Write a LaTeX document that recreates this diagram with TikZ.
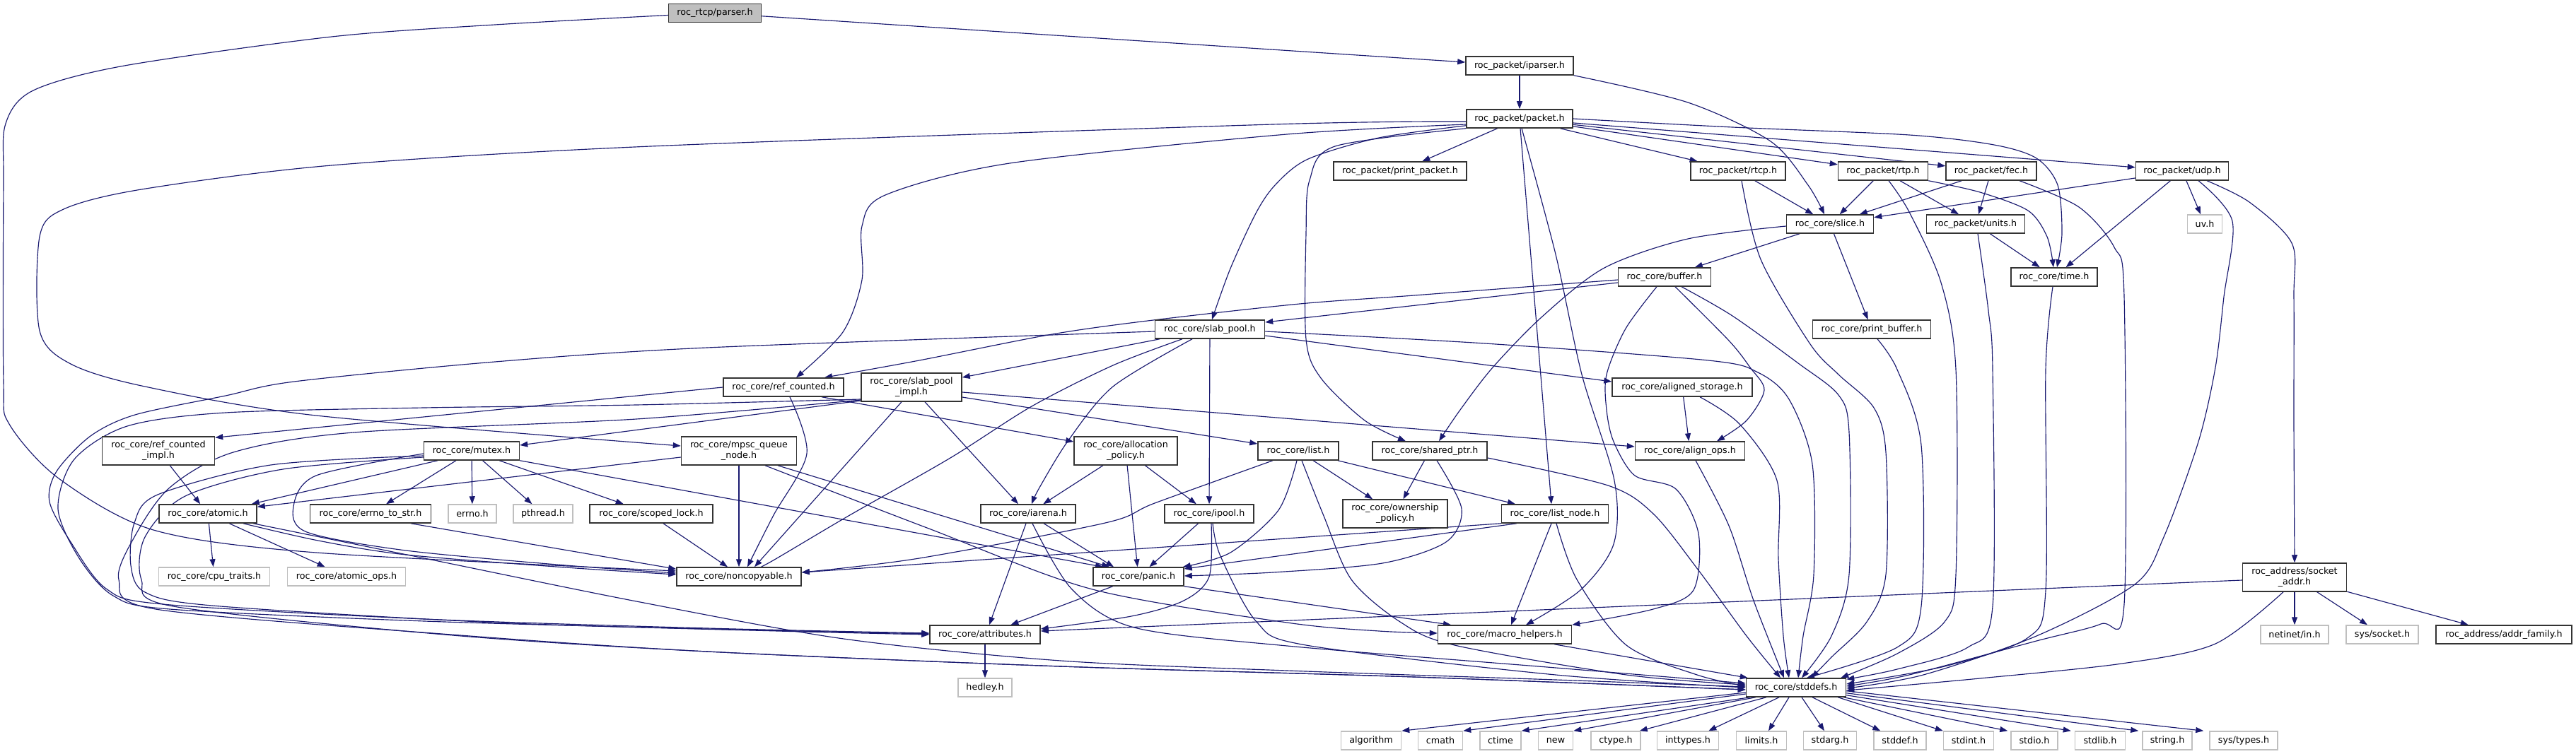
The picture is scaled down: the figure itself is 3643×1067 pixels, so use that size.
\documentclass[tikz,border=0pt]{standalone}
\usepackage{fontspec}
\newfontfamily\djsans{DejaVu Sans}
\usetikzlibrary{arrows.meta}
\definecolor{edgec}{HTML}{191970}
\definecolor{hdr}{HTML}{BFBFBF}
\pgfdeclarelayer{bg}
\pgfsetlayers{bg,main}
\tikzset{
  box/.style={draw=black!80, line width=1.5pt, fill=white, inner sep=0pt, minimum height=26pt,
    font=\djsans\fontsize{12.7}{15}\selectfont, align=center, text=black},
  two/.style={minimum height=40pt},
  ext/.style={box, draw=hdr},
  e/.style={draw=edgec, line width=1.15pt, -{Triangle[length=11pt,width=8pt]}},
  sm/.style={smooth, tension=0.5},
}
\begin{document}
\begin{tikzpicture}[x=1pt,y=-1pt]
\begin{pgfonlayer}{bg}
\fill[white] (0,0) rectangle (3643,1067);
\end{pgfonlayer}
\useasboundingbox (0,0) rectangle (3643,1067);
% nodes
\node[box,fill=hdr,minimum width=131pt] (parser) at (1011,18.5) {roc\_rtcp/parser.h};
\node[box,minimum width=152pt] (iparser) at (2149,93) {roc\_packet/iparser.h};
\node[box,minimum width=150pt] (packet) at (2149,168) {roc\_packet/packet.h};
\node[box,minimum width=188pt] (printpacket) at (1980,242) {roc\_packet/print\_packet.h};
\node[box,minimum width=134pt] (rtcp) at (2458,242) {roc\_packet/rtcp.h};
\node[box,minimum width=127pt] (rtp) at (2663,242) {roc\_packet/rtp.h};
\node[box,minimum width=128pt] (fec) at (2816,242) {roc\_packet/fec.h};
\node[box,minimum width=131pt] (udp) at (3086,242) {roc\_packet/udp.h};
\node[box,minimum width=123pt] (slice) at (2588,317) {roc\_core/slice.h};
\node[box,minimum width=139pt] (units) at (2794,317) {roc\_packet/units.h};
\node[ext,minimum width=49pt] (uv) at (3118,317) {uv.h};
\node[box,minimum width=131pt] (buffer) at (2354,392) {roc\_core/buffer.h};
\node[box,minimum width=122pt] (time) at (2905,392) {roc\_core/time.h};
\node[box,minimum width=155pt] (slabpool) at (1711,466) {roc\_core/slab\_pool.h};
\node[box,minimum width=167pt] (printbuffer) at (2647,466) {roc\_core/print\_buffer.h};
\node[box,minimum width=170pt] (refcounted) at (1108,548) {roc\_core/ref\_counted.h};
\node[box,two,minimum width=142pt] (spimpl) at (1289,548) {roc\_core/slab\_pool\\\_impl.h};
\node[box,minimum width=198pt] (alignedst) at (2379,548) {roc\_core/aligned\_storage.h};
\node[box,two,minimum width=159pt] (rcimpl) at (224,638) {roc\_core/ref\_counted\\\_impl.h};
\node[box,minimum width=135pt] (mutex) at (667,638) {roc\_core/mutex.h};
\node[box,two,minimum width=163pt] (mpsc) at (1045,638) {roc\_core/mpsc\_queue\\\_node.h};
\node[box,two,minimum width=146pt] (allocpol) at (1592,638) {roc\_core/allocation\\\_policy.h};
\node[box,minimum width=114pt] (list) at (1836,638) {roc\_core/list.h};
\node[box,minimum width=162pt] (sharedptr) at (2022,638) {roc\_core/shared\_ptr.h};
\node[box,minimum width=155pt] (alignops) at (2390,638) {roc\_core/align\_ops.h};
\node[box,minimum width=138pt] (atomic) at (294,727) {roc\_core/atomic.h};
\node[box,minimum width=171pt] (errnostr) at (524,727) {roc\_core/errno\_to\_str.h};
\node[ext,minimum width=68pt] (errno) at (668,727) {errno.h};
\node[ext,minimum width=84pt] (pthread) at (768,727) {pthread.h};
\node[box,minimum width=174pt] (scopedlock) at (921,727) {roc\_core/scoped\_lock.h};
\node[box,minimum width=134pt] (iarena) at (1454,727) {roc\_core/iarena.h};
\node[box,minimum width=126pt] (ipool) at (1710,727) {roc\_core/ipool.h};
\node[box,two,minimum width=148pt] (ownpol) at (1973,727) {roc\_core/ownership\\\_policy.h};
\node[box,minimum width=151pt] (listnode) at (2199,727) {roc\_core/list\_node.h};
\node[ext,minimum width=157pt] (cputraits) at (303,816) {roc\_core/cpu\_traits.h};
\node[ext,minimum width=167pt] (atomicops) at (490,816) {roc\_core/atomic\_ops.h};
\node[box,minimum width=176pt] (noncopy) at (1045,816) {roc\_core/noncopyable.h};
\node[box,minimum width=128pt] (panic) at (1610,816) {roc\_core/panic.h};
\node[box,two,minimum width=147pt] (sockaddr) at (3245,817) {roc\_address/socket\\\_addr.h};
\node[box,minimum width=156pt] (attributes) at (1393,898) {roc\_core/attributes.h};
\node[box,minimum width=189pt] (macro) at (2128,898) {roc\_core/macro\_helpers.h};
\node[ext,minimum width=96pt] (netinet) at (3245,898) {netinet/in.h};
\node[ext,minimum width=102pt] (syssocket) at (3369,898) {sys/socket.h};
\node[box,minimum width=192pt] (addrfam) at (3541,898) {roc\_address/addr\_family.h};
\node[ext,minimum width=76pt] (hedley) at (1393,973) {hedley.h};
\node[box,minimum width=141pt] (stddefs) at (2540,973) {roc\_core/stddefs.h};
\node[ext,minimum width=85pt] (lfa) at (1939,1048) {algorithm};
\node[ext,minimum width=63pt] (lfb) at (2037,1048) {cmath};
\node[ext,minimum width=58pt] (lfc) at (2122,1048) {ctime};
\node[ext,minimum width=49pt] (lfd) at (2200,1048) {new};
\node[ext,minimum width=70pt] (lfe) at (2285,1048) {ctype.h};
\node[ext,minimum width=87pt] (lff) at (2387,1048) {inttypes.h};
\node[ext,minimum width=71pt] (lfg) at (2491,1048) {limits.h};
\node[ext,minimum width=75pt] (lfh) at (2588,1048) {stdarg.h};
\node[ext,minimum width=74pt] (lfi) at (2687,1048) {stddef.h};
\node[ext,minimum width=71pt] (lfj) at (2784,1048) {stdint.h};
\node[ext,minimum width=66pt] (lfk) at (2877,1048) {stdio.h};
\node[ext,minimum width=71pt] (lfl) at (2970,1048) {stdlib.h};
\node[ext,minimum width=70pt] (lfm) at (3065,1048) {string.h};
\node[ext,minimum width=96pt] (lfn) at (3173,1048) {sys/types.h};

\begin{pgfonlayer}{bg}
% parser
\draw[e] (parser) -- (iparser);
\draw[e] plot[sm] coordinates {([yshift=-3pt]parser.west) (700,35) (469,52) (176,93) (47,128) (8,175) (5,260) (5,540) (13,600) (83,677) (217,750) (447,782) ([yshift=8pt]noncopy.west)};
% iparser
\draw[e] (iparser) -- (packet);
\draw[e] plot[sm] coordinates {(iparser.south east) (2387,145) (2504,200) (2557,262) ([xshift=-8pt]slice.north)};
% packet
\draw[e] (packet) -- (printpacket);
\draw[e] (packet) -- (rtcp);
\draw[e] (packet) -- (rtp);
\draw[e] (packet) -- (fec);
\draw[e] (packet) -- (udp);
\draw[e] plot[sm] coordinates {(packet.east) (2450,180) (2700,191) (2820,205) (2880,224) (2910,262) (2916,330) ([xshift=4pt]time.north)};
\draw[e] plot[sm] coordinates {([yshift=4pt]packet.south west) (1950,195) (1850,225) (1805,260) (1777,300) (1740,380) ([xshift=3pt]slabpool.north)};
\draw[e] plot[sm] coordinates {(packet.south west) (1888,207) (1852,255) (1847,330) (1847,480) (1868,535) (1930,595) ([xshift=-34pt]sharedptr.north)};
\draw[e] ([xshift=1pt]packet.south) -- ([xshift=-5pt]listnode.north);
\draw[e] plot[sm] coordinates {([xshift=3pt]packet.south) (2200,360) (2237,530) (2283,680) (2282,770) (2235,835) ([xshift=30pt]macro.north)};
\draw[e] plot[sm] coordinates {([yshift=-8pt]packet.west) (1820,190) (1428,231) (1252,276) (1219,320) (1219,396) (1192,470) ([xshift=18pt]refcounted.north)};
\draw[e] plot[sm] coordinates {([yshift=-4pt]packet.west) (1800,176) (920,207) (469,234) (200,268) (90,296) (56,335) (56,468) (100,515) (205,547) (447,588) ([yshift=7pt]mpsc.west)};
% rtcp
\draw[e] (rtcp) -- (slice);
\draw[e] plot[sm] coordinates {([xshift=5pt]rtcp.south) (2490,367) (2560,487) (2600,530) (2650,577) (2667,640) (2667,813) (2640,880) (2590,930) ([xshift=22pt]stddefs.north)};
% rtp
\draw[e] (rtp) -- (slice);
\draw[e] (rtp) -- (units);
\draw[e] plot[sm] coordinates {(rtp.south east) (2800,272) (2868,298) (2895,335) ([xshift=-1pt]time.north)};
\draw[e] plot[sm] coordinates {([xshift=8pt]rtp.south) (2700,300) (2745,400) (2766,523) (2766,813) (2750,880) (2683,925) ([xshift=-8pt]stddefs.north east)};
% fec
\draw[e] (fec) -- (slice);
\draw[e] (fec) -- (units);
\draw[e] plot[sm] coordinates {([xshift=40pt]fec.south) (2940,293) (2990,350) (3004,420) (3004,855) (2971,883) (2880,907) (2700,955) ([yshift=2pt]stddefs.east)};
% udp
\draw[e] (udp) -- (slice);
\draw[e] (udp) -- (time);
\draw[e] (udp) -- (uv);
\draw[e] plot[sm] coordinates {([xshift=23pt]udp.south) (3157,313) (3145,420) (3133,520) (3109,625) (3060,760) (3019,827) (2880,900) (2720,955) ([yshift=-1pt]stddefs.east)};
\draw[e] plot[sm] coordinates {([xshift=35pt]udp.south) (3181,286) (3241,344) (3244,420) (3244,600) (sockaddr.north)};
% units, time
\draw[e] (units) -- (time);
\draw[e] plot[sm] coordinates {([xshift=3pt]units.south) (2812,440) (2818,523) (2818,858) (2783,916) (2683,947) ([yshift=-2pt]stddefs.north east)};
\draw[e] plot[sm] coordinates {([xshift=-2pt]time.south) (2893,523) (2893,836) (2867,903) (2750,943) ([yshift=5pt]stddefs.east)};
% slice
\draw[e] (slice) -- (buffer);
\draw[e] plot[sm] coordinates {([yshift=-3pt]slice.west) (2387,338) (2269,379) (2181,448) (2111,520) (2065,580) ([xshift=13pt]sharedptr.north)};
\draw[e] (slice) -- (printbuffer);
% buffer
\draw[e] plot[sm] coordinates {([yshift=-4pt]buffer.west) (2000,418) (1838,430) (1631,453) (1488,473) (1300,510) ([xshift=58pt]refcounted.north)};
\draw[e] ([yshift=-8pt]buffer.west) -- ([yshift=10pt]slabpool.east);
\draw[e] plot[sm] coordinates {([xshift=15pt]buffer.south) (2445,482) (2475,520) (2495,552) (2470,595) ([xshift=38pt]alignops.north)};
\draw[e] plot[sm] coordinates {([xshift=-11pt]buffer.south) (2299,465) (2272,530) (2272,580) (2282,625) (2312,673) (2370,692) (2402,755) (2395,835) (2338,862) (macro.north east)};
\draw[e] plot[sm] coordinates {([xshift=24pt]buffer.south) (2450,447) (2543,514) (2600,559) (2615,612) (2615,813) (2590,900) ([xshift=8pt]stddefs.north)};
% print_buffer
\draw[e] plot[sm] coordinates {([xshift=8pt]printbuffer.south) (2683,523) (2717,630) (2717,858) (2683,916) ([xshift=15pt]stddefs.north)};
% slab_pool
\draw[e] (slabpool) -- (spimpl);
\draw[e] plot[sm] coordinates {([xshift=-39pt]slabpool.south) (1574,517) (1459,575) (1344,648) (1200,730) (1090,795) ([xshift=27pt]noncopy.north)};
\draw[e] plot[sm] coordinates {([xshift=-25pt]slabpool.south) (1574,547) (1511,623) (1470,690) ([xshift=5pt]iarena.north)};
\draw[e] (slabpool) -- (ipool);
\draw[e] ([yshift=-9pt]slabpool.east) -- ([yshift=8pt]alignedst.west);
\draw[e] plot[sm] coordinates {([yshift=-3pt]slabpool.east) (2100,486) (2416,510) (2486,527) (2530,565) (2563,657) (2565,813) (2550,900) ([xshift=3pt]stddefs.north)};
\draw[e] plot[sm] coordinates {([yshift=-3pt]slabpool.west) (1000,492) (700,512) (416,540) (319,560) (191,587) (128,617) (80,667) (70,710) (100,767) (150,833) (230,855) (600,876) (1000,889) ([yshift=2pt]attributes.west)};
% slab_pool_impl
\draw[e] ([xshift=-14pt]spimpl.south) -- ([xshift=22pt]noncopy.north);
\draw[e] ([xshift=19pt]spimpl.south) -- ([xshift=-14pt]iarena.north);
\draw[e] ([yshift=-7pt]spimpl.east) -- ([yshift=6pt]alignops.west);
\draw[e] ([yshift=-14pt]spimpl.east) -- ([yshift=10pt]list.west);
\draw[e] ([yshift=-19pt]spimpl.west) -- ([yshift=8pt]mutex.east);
\draw[e] plot[sm] coordinates {([yshift=-17pt]spimpl.west) (900,573) (600,577) (319,584) (180,603) (105,650) (82,720) (112,790) (160,843) (240,862) (600,879) (1000,890) ([yshift=1pt]attributes.west)};
\draw[e] plot[sm] coordinates {([yshift=-18pt]spimpl.west) (900,593) (500,612) (330,640) (240,690) (190,760) (168,820) (220,862) (638,898) (1000,922) (1500,943) (2000,958) ([yshift=-3pt]stddefs.west)};
% ref_counted
\draw[e] (refcounted.west) -- ([yshift=-2pt]rcimpl.north east);
\draw[e] plot[sm] coordinates {([xshift=9pt]refcounted.south) (1141,642) (1094,729) ([xshift=12pt]noncopy.north)};
\draw[e] ([xshift=54pt]refcounted.south) -- ([yshift=13pt]allocpol.west);
\draw[e] (rcimpl) -- (atomic);
% mpsc
\draw[e] (mpsc) -- (noncopy);
\draw[e] ([xshift=55pt]mpsc.south) -- ([xshift=-41pt]panic.north);
\draw[e] plot[sm] coordinates {([xshift=37pt]mpsc.south) (1311,747) (1545,834) (1820,881) (1950,893) ([yshift=2pt]macro.west)};
\draw[e] ([yshift=-9pt]mpsc.west) -- ([yshift=-4pt]atomic.north east);
% mutex
\draw[e] ([xshift=-48pt]mutex.south) -- ([xshift=-8pt]atomic.north east);
\draw[e] (mutex) -- (errnostr);
\draw[e] (mutex) -- (errno);
\draw[e] (mutex) -- (pthread);
\draw[e] (mutex) -- (scopedlock);
\draw[e] (mutex.south east) -- ([xshift=-50pt]panic.north);
\draw[e] plot[sm] coordinates {([yshift=-4pt]mutex.west) (447,673) (415,717) (434,753) (574,779) (800,800) ([yshift=5pt]noncopy.west)};
\draw[e] plot[sm] coordinates {([yshift=-7pt]mutex.west) (383,658) (223,700) (190,740) (185,800) (205,838) (300,857) (700,881) (1100,893) (attributes.west)};
\draw[e] plot[sm] coordinates {([yshift=-9pt]mutex.west) (400,664) (262,702) (205,760) (200,820) (245,858) (640,899) (1000,922) (1500,943) (2000,958) ([yshift=-3pt]stddefs.west)};
% atomic
\draw[e] (atomic) -- (cputraits);
\draw[e] (atomic) -- (atomicops);
\draw[e] plot[sm] coordinates {([xshift=50pt]atomic.south) (450,765) (574,785) (800,803) ([yshift=3pt]noncopy.west)};
\draw[e] plot[sm] coordinates {([xshift=64pt]atomic.south) (600,790) (900,851) (1193,904) (1500,935) (1820,949) (2200,962) ([yshift=1pt]stddefs.west)};
% errno_to_str, scoped_lock
\draw[e] ([xshift=57pt]errnostr.south) -- ([yshift=-3pt]noncopy.north west);
\draw[e] ([xshift=17pt]scopedlock.south) -- ([xshift=-16pt]noncopy.north);
% allocation_policy
\draw[e] (allocpol) -- (iarena);
\draw[e] (allocpol) -- (panic);
\draw[e] (allocpol) -- (ipool);
% list
\draw[e] (list) -- (ownpol);
\draw[e] (list) -- (listnode);
\draw[e] plot[sm] coordinates {([xshift=-2pt]list.south) (1808,722) (1740,782) ([xshift=-2pt]panic.north east)};
\draw[e] plot[sm] coordinates {([xshift=-36pt]list.south) (1633,712) (1563,740) (1300,790) ([yshift=6pt]noncopy.east)};
\draw[e] plot[sm] coordinates {([xshift=5pt]list.south) (1872,730) (1911,820) (1980,880) (2057,913) (2300,955) ([yshift=4pt]stddefs.west)};
% ipool
\draw[e] (ipool) -- (panic);
\draw[e] plot[sm] coordinates {([xshift=3pt]ipool.south) (1710,816) (1674,850) (1600,872) ([yshift=8pt]attributes.east)};
\draw[e] plot[sm] coordinates {([xshift=5pt]ipool.south) (1726,787) (1777,880) (1847,913) (2200,955) (stddefs.west)};
% iarena
\draw[e] ([xshift=-3pt]iarena.south) -- ([xshift=6pt]attributes.north);
\draw[e] (iarena) -- ([xshift=-35pt]panic.north);
\draw[e] plot[sm] coordinates {([xshift=6pt]iarena.south) (1516,834) (1604,888) (1820,914) (2200,945) ([yshift=6pt]stddefs.west)};
% panic
\draw[e] (panic) -- (attributes);
\draw[e] (panic.south east) -- ([xshift=-76pt]macro.north);
% attributes
\draw[e] (attributes) -- (hedley);
% macro_helpers
\draw[e] ([xshift=70pt]macro.south) -- ([xshift=3pt]stddefs.north west);
% list_node
\draw[e] ([xshift=-5pt]listnode.south) -- ([xshift=9pt]macro.north);
\draw[e] plot[sm] coordinates {([xshift=2pt]listnode.south) (2230,820) (2300,913) (2400,955) ([yshift=2pt]stddefs.west)};
\draw[e] (listnode.south west) -- ([yshift=6pt]noncopy.east);
\draw[e] ([xshift=-54pt]listnode.south) -- ([yshift=11pt]panic.east);
% shared_ptr
\draw[e] (sharedptr) -- (ownpol);
\draw[e] plot[sm] coordinates {([xshift=10pt]sharedptr.south) (2067,720) (2045,767) (1955,797) (1800,810) ([yshift=1pt]panic.east)};
\draw[e] plot[sm] coordinates {([yshift=-10pt]sharedptr.east) (2274,687) (2338,727) (2402,807) (2470,900) ([xshift=-22pt]stddefs.north)};
% aligned_storage, align_ops
\draw[e] (alignedst) -- (alignops);
\draw[e] plot[sm] coordinates {([xshift=25pt]alignedst.south) (2460,600) (2513,680) (2515,791) (2522,900) ([xshift=-10pt]stddefs.north)};
\draw[e] plot[sm] coordinates {([xshift=8pt]alignops.south) (2445,744) (2480,850) ([xshift=-17pt]stddefs.north)};
% socket_addr
\draw[e] (sockaddr) -- (netinet);
\draw[e] (sockaddr) -- (syssocket);
\draw[e] (sockaddr) -- (addrfam);
\draw[e] ([yshift=-4pt]sockaddr.west) -- ([yshift=5pt]attributes.east);
\draw[e] plot[sm] coordinates {([xshift=-16pt]sockaddr.south) (3133,911) (3001,939) (2800,960) ([yshift=-4pt]stddefs.east)};
% stddefs leaves
\draw[e] ([yshift=-7pt]stddefs.west) -- (lfa.north east);
\draw[e] ([yshift=-9pt]stddefs.west) -- (lfb.north east);
\draw[e] ([xshift=-65pt]stddefs.south) -- (lfc.north east);
\draw[e] ([xshift=-57pt]stddefs.south) -- (lfd.north east);
\draw[e] ([xshift=-42pt]stddefs.south) -- ([xshift=-2pt]lfe.north east);
\draw[e] ([xshift=-24pt]stddefs.south) -- ([xshift=-15pt]lff.north east);
\draw[e] ([xshift=-10pt]stddefs.south) -- ([xshift=10pt]lfg.north);
\draw[e] ([xshift=8pt]stddefs.south) -- ([xshift=-8pt]lfh.north);
\draw[e] ([xshift=23pt]stddefs.south) -- ([xshift=10pt]lfi.north west);
\draw[e] ([xshift=-12pt]stddefs.south east) -- (lfj.north west);
\draw[e] ([xshift=-4pt]stddefs.south east) -- ([xshift=-4pt]lfk.north west);
\draw[e] ([yshift=3pt]stddefs.south east) -- ([xshift=-5pt]lfl.north west);
\draw[e] ([yshift=6pt]stddefs.south east) -- ([xshift=-5pt]lfm.north west);
\draw[e] ([yshift=9pt]stddefs.south east) -- ([xshift=-8pt]lfn.north west);
\end{pgfonlayer}
\end{tikzpicture}
\end{document}
